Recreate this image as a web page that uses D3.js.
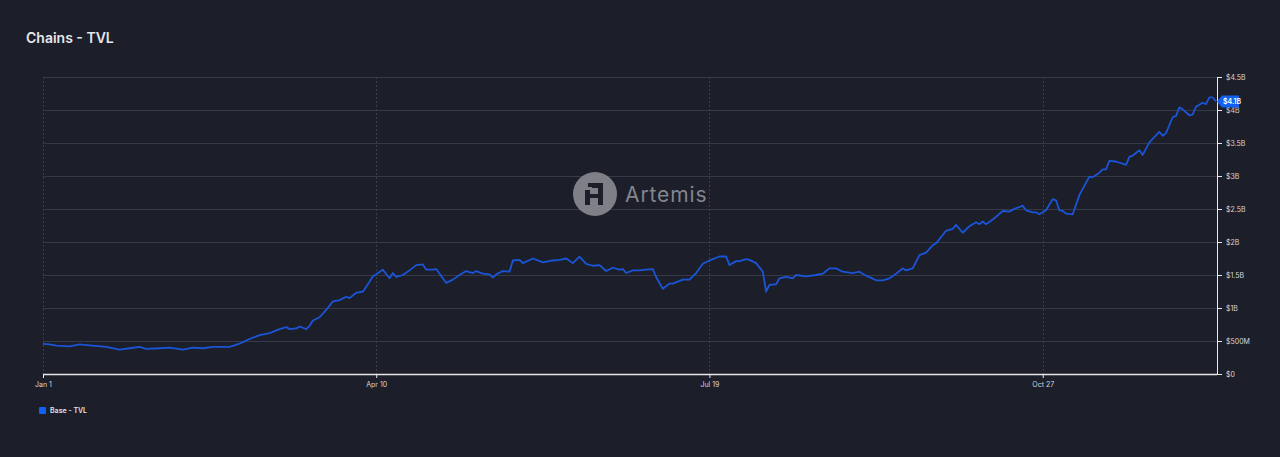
<!DOCTYPE html>
<html>
<head>
<meta charset="utf-8">
<script src="https://cdn.jsdelivr.net/npm/d3@7"></script>
<style>
  html, body { margin: 0; padding: 0; background: #1c1e29; }
  svg { display: block; font-family: Inter, "Open Sans", sans-serif; }
</style>
</head>
<body>
<svg id="chart" width="1280" height="457"></svg>
<script>
// ---- data (Base TVL, billions USD) ----
const dates = [
"2024-01-01","2024-01-03","2024-01-05","2024-01-09","2024-01-12","2024-01-15","2024-01-20","2024-01-24","2024-01-27","2024-01-30",
"2024-02-01","2024-02-05","2024-02-08","2024-02-12","2024-02-15","2024-02-18","2024-02-21","2024-02-26","2024-02-29",
"2024-03-03","2024-03-06","2024-03-09","2024-03-12","2024-03-14","2024-03-15","2024-03-17","2024-03-18","2024-03-20","2024-03-21","2024-03-22","2024-03-24","2024-03-26","2024-03-28","2024-03-30",
"2024-04-01","2024-04-02","2024-04-04","2024-04-06","2024-04-07","2024-04-09","2024-04-10","2024-04-12","2024-04-14","2024-04-15","2024-04-16","2024-04-18","2024-04-20","2024-04-22","2024-04-24","2024-04-25","2024-04-27","2024-04-28",
"2024-05-01","2024-05-03","2024-05-05","2024-05-07","2024-05-09","2024-05-10","2024-05-12","2024-05-14","2024-05-15","2024-05-16","2024-05-18","2024-05-20","2024-05-21","2024-05-23","2024-05-24","2024-05-27","2024-05-30",
"2024-06-02","2024-06-04","2024-06-06","2024-06-08","2024-06-10","2024-06-12","2024-06-14","2024-06-16","2024-06-18","2024-06-20","2024-06-22","2024-06-23","2024-06-24","2024-06-26","2024-06-28","2024-06-30",
"2024-07-02","2024-07-03","2024-07-05","2024-07-07","2024-07-08","2024-07-11","2024-07-13","2024-07-15","2024-07-17","2024-07-19","2024-07-20","2024-07-22","2024-07-24","2024-07-25","2024-07-27","2024-07-28","2024-07-30","2024-07-31",
"2024-08-02","2024-08-04","2024-08-05","2024-08-06","2024-08-08","2024-08-09","2024-08-11","2024-08-13","2024-08-14","2024-08-17","2024-08-20","2024-08-22","2024-08-24","2024-08-26","2024-08-28","2024-08-31",
"2024-09-02","2024-09-04","2024-09-07","2024-09-09","2024-09-11","2024-09-13","2024-09-15","2024-09-16","2024-09-18","2024-09-20","2024-09-22","2024-09-24","2024-09-25","2024-09-28","2024-09-30",
"2024-10-01","2024-10-03","2024-10-05","2024-10-07","2024-10-08","2024-10-09","2024-10-10","2024-10-12","2024-10-15","2024-10-17","2024-10-18","2024-10-21","2024-10-22","2024-10-24","2024-10-25","2024-10-26","2024-10-28","2024-10-30","2024-10-31",
"2024-11-01","2024-11-02","2024-11-03","2024-11-05","2024-11-07","2024-11-10","2024-11-11","2024-11-13","2024-11-14","2024-11-15","2024-11-16","2024-11-18","2024-11-21","2024-11-22","2024-11-23","2024-11-25","2024-11-26","2024-11-28",
"2024-12-01","2024-12-02","2024-12-03","2024-12-05","2024-12-06","2024-12-07","2024-12-08","2024-12-10","2024-12-11","2024-12-12","2024-12-14","2024-12-15","2024-12-16","2024-12-17","2024-12-18"
];
const tvl = [
0.455,0.45,0.43,0.42,0.45,0.435,0.41,0.37,0.39,0.41,
0.38,0.39,0.40,0.37,0.40,0.39,0.41,0.41,0.46,
0.53,0.59,0.62,0.68,0.71,0.68,0.69,0.72,0.68,0.73,0.81,0.86,0.97,1.10,1.12,
1.17,1.15,1.23,1.25,1.32,1.48,1.51,1.58,1.45,1.53,1.47,1.50,1.57,1.65,1.66,1.58,1.58,1.59,
1.38,1.43,1.50,1.56,1.53,1.56,1.52,1.51,1.46,1.51,1.56,1.55,1.72,1.73,1.68,1.75,1.69,
1.72,1.73,1.75,1.68,1.78,1.67,1.64,1.65,1.56,1.61,1.58,1.59,1.53,1.57,1.57,1.58,
1.59,1.47,1.29,1.37,1.37,1.43,1.43,1.53,1.67,1.72,1.74,1.78,1.78,1.65,1.71,1.71,1.74,1.73,
1.68,1.55,1.25,1.35,1.36,1.45,1.47,1.45,1.50,1.48,1.50,1.52,1.60,1.60,1.55,1.53,
1.55,1.49,1.42,1.42,1.45,1.52,1.60,1.57,1.60,1.80,1.84,1.95,1.98,2.17,2.20,
2.26,2.14,2.24,2.30,2.27,2.31,2.27,2.34,2.47,2.46,2.49,2.55,2.48,2.45,2.45,2.42,2.48,2.65,2.63,
2.48,2.47,2.43,2.42,2.71,2.99,2.98,3.05,3.10,3.10,3.23,3.22,3.17,3.29,3.31,3.39,3.32,3.51,
3.67,3.61,3.65,3.89,3.91,4.04,4.01,3.92,3.93,4.05,4.11,4.09,4.19,4.19,4.13
];
const xTickDates = ["2024-01-01","2024-04-10","2024-07-19","2024-10-27"];
const yTickValues = [0,0.5,1,1.5,2,2.5,3,3.5,4,4.5];
const yTickLabels = ["$0","$500M","$1B","$1.5B","$2B","$2.5B","$3B","$3.5B","$4B","$4.5B"];
const seriesName = "Base - TVL";
const chartTitle = "Chains - TVL";
const lastLabel = "$4.1B";

// ---- chart ----
(function () {
const parse = d3.timeParse("%Y-%m-%d");
const data = dates.map((d, i) => ({ date: parse(d), value: tvl[i] }));

const svg = d3.select("#chart");
const mLeft = 43, mRight = 1216, mTop = 77, mBottom = 374;
const axisX = 1217;
const lineColor = "#1a55d8";

const x = d3.scaleTime()
  .domain([parse(dates[0]), parse(dates[dates.length - 1])])
  .range([mLeft, mRight]);
const y = d3.scaleLinear().domain([0, 4.5]).range([mBottom, mTop]);

// title
svg.append("text").attr("x", 26).attr("y", 43)
  .attr("fill", "#e6e7ee").attr("font-size", 14).attr("font-weight", 600)
  .text(chartTitle);

// horizontal grid
svg.append("g").selectAll("line").data(yTickValues.filter(v => v > 0)).join("line")
  .attr("x1", mLeft).attr("x2", axisX)
  .attr("y1", d => Math.round(y(d)) + 0.5).attr("y2", d => Math.round(y(d)) + 0.5)
  .attr("stroke", "#363947").attr("stroke-width", 1);

// vertical grid
svg.append("g").selectAll("line").data(xTickDates.map(parse)).join("line")
  .attr("x1", d => Math.round(x(d)) + 0.5).attr("x2", d => Math.round(x(d)) + 0.5)
  .attr("y1", mTop).attr("y2", mBottom)
  .attr("stroke", "#3a3d4b").attr("stroke-width", 1).attr("stroke-dasharray", "2,2");

// watermark
const wm = svg.append("g").attr("opacity", 0.95);
wm.append("circle").attr("cx", 595).attr("cy", 194).attr("r", 22).attr("fill", "#85868d");
const glyph = wm.append("g").attr("fill", "#1c1e29");
glyph.append("rect").attr("x", 588).attr("y", 183).attr("width", 4).attr("height", 4);
glyph.append("rect").attr("x", 592).attr("y", 183).attr("width", 11).attr("height", 5);
glyph.append("rect").attr("x", 598).attr("y", 183).attr("width", 5).attr("height", 22);
glyph.append("rect").attr("x", 585).attr("y", 190).attr("width", 5).attr("height", 15);
glyph.append("rect").attr("x", 585).attr("y", 194).attr("width", 18).attr("height", 4);
wm.append("text").attr("x", 625).attr("y", 202)
  .attr("fill", "#8a8b93").attr("font-size", 21).attr("font-family", "Inter, sans-serif")
  .attr("letter-spacing", 0.9).text("Artemis");

// line
svg.append("path").datum(data)
  .attr("fill", "none").attr("stroke", lineColor).attr("stroke-width", 1.8)
  .attr("stroke-linejoin", "round")
  .attr("d", d3.line().x(d => x(d.date)).y(d => y(d.value)));

// x axis
const xAxis = svg.append("g").attr("transform", `translate(0,${mBottom})`)
  .call(d3.axisBottom(x).tickValues(xTickDates.map(parse))
    .tickFormat(d3.timeFormat("%b %-d")).tickSize(4).tickSizeOuter(0));
xAxis.select(".domain").attr("stroke", "#e8e8ee").attr("stroke-width", 1.5)
  .attr("d", `M${mLeft},0.5H${axisX}`);
xAxis.selectAll(".tick line").attr("stroke", "#e8e8ee");
xAxis.selectAll(".tick text").attr("fill", "#d6d7de").attr("font-size", 7)
  .attr("dy", "0.9em").attr("font-family", "Inter, sans-serif");

// y axis (right)
const yAxis = svg.append("g").attr("transform", `translate(${axisX},0)`)
  .call(d3.axisRight(y).tickValues(yTickValues)
    .tickFormat((d, i) => yTickLabels[i]).tickSize(5).tickSizeOuter(0));
yAxis.select(".domain").attr("stroke", "#e8e8ee").attr("stroke-width", 1);
yAxis.selectAll(".tick line").attr("stroke", "#e8e8ee");
yAxis.selectAll(".tick text").attr("fill", "#d6d7de").attr("font-size", 7)
  .attr("x", 9).attr("font-family", "Inter, sans-serif");

// last value flag
const last = data[data.length - 1];
const ly = y(last.value);
const flag = svg.append("g").attr("transform", `translate(${axisX},${ly})`);
flag.append("path").attr("d", "M0,0 L5,-6 H22 V6 H5 Z").attr("fill", "#1160f0");
flag.append("text").attr("x", 6).attr("y", 0).attr("dy", "0.35em")
  .attr("fill", "#ffffff").attr("font-size", 7).attr("font-weight", 600)
  .attr("font-family", "Inter, sans-serif").text(lastLabel);

// legend
svg.append("rect").attr("x", 39).attr("y", 407).attr("width", 7).attr("height", 7)
  .attr("rx", 1).attr("fill", "#1160f0");
svg.append("text").attr("x", 50).attr("y", 411).attr("dy", "0.35em")
  .attr("fill", "#e0e1e8").attr("font-size", 7).attr("font-weight", 600)
  .attr("font-family", "Inter, sans-serif").text(seriesName);
})();
</script>
</body>
</html>
